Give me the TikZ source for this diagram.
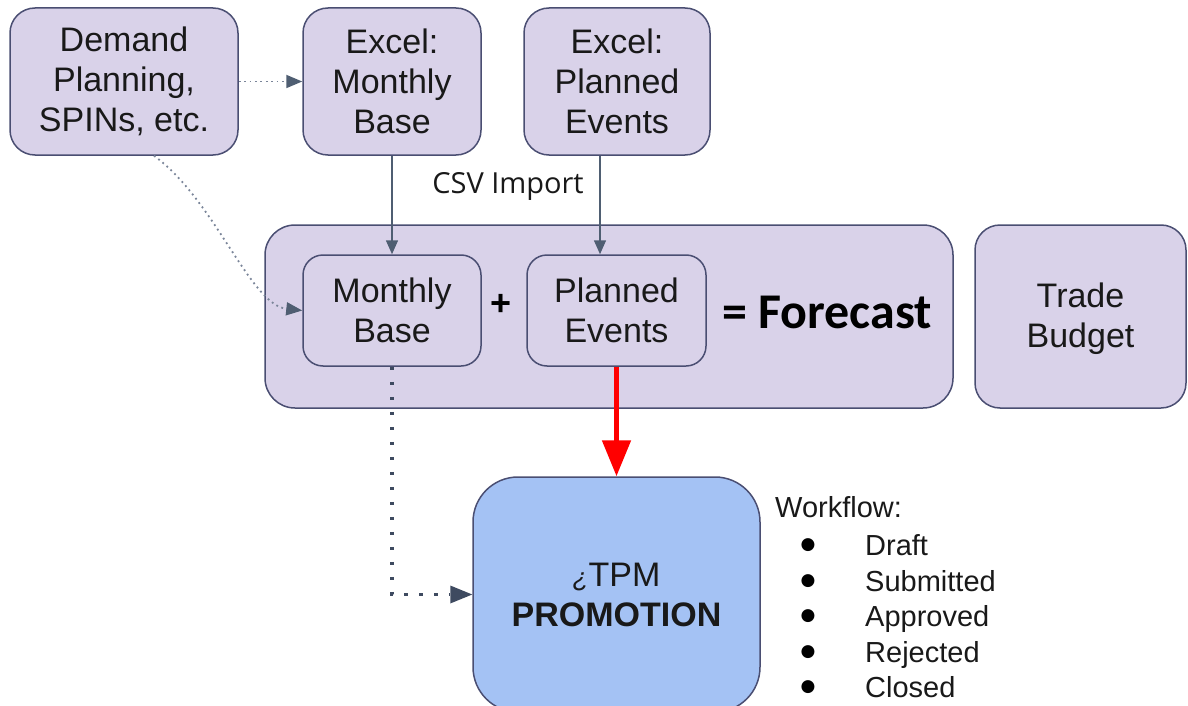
\documentclass[tikz,border=0pt]{standalone}
\usepackage{fontspec}
\setmainfont{Liberation Sans}
\newfontfamily\osans{Open Sans}
\newfontfamily\carl{Carlito}
\newfontfamily\djv{DejaVu Sans}
\usetikzlibrary{arrows.meta}
\definecolor{lav}{HTML}{D9D2E9}
\definecolor{edge}{HTML}{4A4E72}
\definecolor{tpmblue}{HTML}{A4C2F4}
\definecolor{arr}{HTML}{4F5E72}
\definecolor{arrlight}{HTML}{7A8599}
\definecolor{arrdark}{HTML}{3E4A60}
\tikzset{
  box/.style={draw=edge, line width=1.5pt, fill=lav, rounded corners=25pt, align=center,
    inner sep=0pt, font=\fontsize{34}{40}\selectfont, text=black!90},
  innerbox/.style={box, rounded corners=20pt},
  garrow/.style={draw=arr, line width=1.5pt, -{Triangle[length=14pt,width=12pt]}},
  dotsmall/.style={draw=arrlight, line width=1.8pt, dash pattern=on 1.8pt off 3.6pt,
    -{Triangle[length=16pt,width=13pt,color=arr,fill=arr]}},
  dotbig/.style={draw=arrdark, line width=3.5pt, dash pattern=on 3.5pt off 11.5pt,
    -{Triangle[length=22pt,width=18pt,line width=0pt]}},
  redarrow/.style={draw=red, line width=5pt, -{Triangle[length=36pt,width=28pt]}},
  item/.style={anchor=base west, inner sep=0pt, font=\fontsize{29}{35}\selectfont, text=black!90},
  bul/.style={inner sep=0pt, font=\djv\fontsize{17}{17}\selectfont}
}
\begin{document}
\begin{tikzpicture}[x=1pt,y=-1pt]
\useasboundingbox (0,0) rectangle (1188,706);
% top row
\node[box, minimum width=228pt, minimum height=147pt] (demand) at (124,81.5) {Demand\\Planning,\\SPINs, etc.};
\node[box, minimum width=178pt, minimum height=147pt] (exmb) at (392,81.5) {Excel:\\Monthly\\Base};
\node[box, minimum width=186pt, minimum height=147pt] (expe) at (617,81.5) {Excel:\\Planned\\Events};
% container
\node[box, rounded corners=30pt, minimum width=688pt, minimum height=183pt] (fbox) at (609,316.5) {};
\node[innerbox, minimum width=178pt, minimum height=111pt] (mb) at (392,310.5) {Monthly\\Base};
\node[innerbox, minimum width=179pt, minimum height=111pt] (pe) at (616.5,310.5) {Planned\\Events};
\node[inner sep=0pt, font=\bfseries\fontsize{36}{40}\selectfont] (plus) at (501,305) {+};
\node[inner sep=0pt, font=\carl\bfseries\fontsize{50}{52}\selectfont] (fc) at (827,312) {= Forecast};
\node[box, minimum width=211pt, minimum height=183pt] (trade) at (1080.5,316.5) {};
\node[inner sep=0pt, align=center, font=\fontsize{34}{40}\selectfont, text=black!90] (tradetxt) at (1080.5,319) {Trade\\Budget};
% TPM
\node[box, fill=tpmblue, rounded corners=45pt, minimum width=287pt, minimum height=235pt] (tpm) at (616.5,594.5)
  {\textit{\fontsize{26}{26}\selectfont ¿}TPM\\\textbf{PROMOTION}};
% label
\node[inner sep=0pt, font=\osans\fontsize{29}{32}\selectfont, text=black!90] (csv) at (508,186) {CSV Import};
% workflow
\node[item] (wf) at (775,517) {Workflow:};
\node[item] (w1) at (865,555) {Draft};
\node[item] (w2) at (865,591) {Submitted};
\node[item] (w3) at (865,626) {Approved};
\node[item] (w4) at (865,662) {Rejected};
\node[item] (w5) at (865,697) {Closed};
\node[bul] (b1) at (808,545) {●};
\node[bul] (b2) at (808,581) {●};
\node[bul] (b3) at (808,616) {●};
\node[bul] (b4) at (808,652) {●};
\node[bul] (b5) at (808,687) {●};
% connectors
\draw[garrow] (exmb.south) -- (mb.north);
\draw[garrow] ([xshift=-17pt]expe.south) -- ([xshift=-16.5pt]pe.north);
\draw[dotsmall] (demand.east) -- (exmb.west);
\draw[dotsmall] ([xshift=30pt]demand.south) .. controls (215,200) and (250,305) .. (mb.west);
\draw[dotbig] (mb.south) |- (tpm.west);
\draw[redarrow] (pe.south) -- (tpm.north);
\end{tikzpicture}
\end{document}
